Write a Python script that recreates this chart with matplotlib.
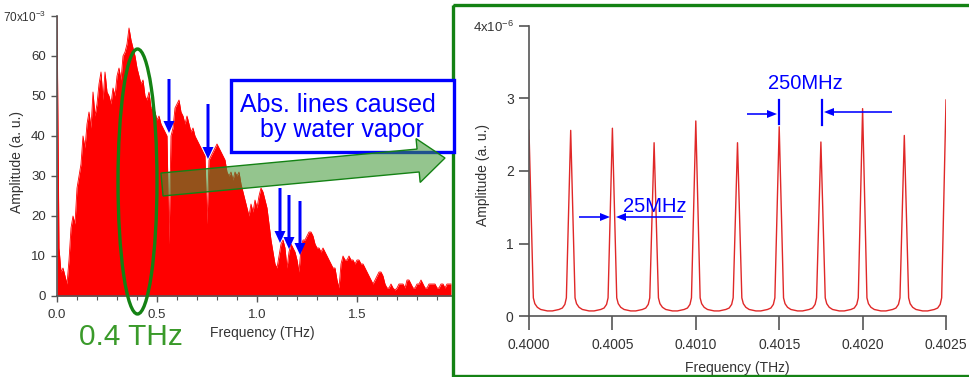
import numpy as np
import matplotlib
matplotlib.use('Agg')
import matplotlib.pyplot as plt
from matplotlib.patches import Ellipse, Rectangle, Polygon, FancyArrow

# ---------------- data ----------------
# Left: broadband THz spectrum, amplitude (x1e-3), sampled every 0.01 THz from 0 THz
spec_f_start = 0.0
spec_f_step = 0.01
spec_amp = [
    72, 12, 6, 7, 5, 3, 9, 17, 20, 18,
    27, 30, 33, 40, 37, 43, 46, 42, 51, 45,
    48, 53, 56, 49, 56, 51, 50, 48, 52, 50,
    55, 57, 54, 60, 61, 63, 67, 64, 62, 60,
    57, 55, 53, 54, 50, 49, 51, 47, 47, 46,
    44, 45, 43, 42, 41, 40, 13, 40, 42, 47,
    48, 49, 46, 45, 43, 45, 43, 41, 42, 40,
    39, 38, 37, 36, 35, 18, 34, 35, 36, 37,
    38, 37, 36, 35, 34, 31, 30, 31, 29, 31,
    30, 31, 28, 26, 24, 22, 20, 23, 21, 24,
    22, 25, 27, 26, 24, 22, 18, 14, 11, 8,
    7, 10, 13, 14, 12, 7, 11, 13, 12, 11,
    9, 6, 12, 14, 14, 15, 16, 16, 15, 13,
    12, 12, 11, 12, 11, 10, 9, 8, 7, 7,
    4, 2, 8, 10, 9, 9, 10, 9, 9, 8,
    9, 9, 8, 8, 7, 6, 5, 4, 3, 4,
    5, 6, 6, 5, 3, 2, 2, 3, 2, 1.5,
    2, 3, 3, 3, 2, 4, 4, 3, 2, 2,
    3, 3, 4, 3, 2, 2, 3, 3, 3, 3,
    2, 2, 3, 3, 2, 3, 3, 3,
]

# Right: frequency comb around 0.4 THz, amplitude (x1e-6)
comb_peak_freq = [0.40000, 0.40025, 0.40050, 0.40075, 0.40100, 0.40125,
                  0.40150, 0.40175, 0.40200, 0.40225, 0.40250]
comb_peak_amp = [2.56, 2.56, 2.59, 2.39, 2.69, 2.39, 2.61, 2.40, 2.86, 2.49, 2.98]
valley_offset = [0.000026, 0.000035, 0.00005, 0.00007, 0.00009, 0.00011, 0.000125,
                 0.00014, 0.00016, 0.00018, 0.0002, 0.000215, 0.000224]
valley_amp = [0.25, 0.17, 0.12, 0.09, 0.08, 0.07, 0.07, 0.07, 0.08, 0.09, 0.11, 0.16, 0.25]

left_xticks = [0.0, 0.5, 1.0, 1.5]
left_xticklabels = ['0.0', '0.5', '1.0', '1.5']
left_yticks = [0, 10, 20, 30, 40, 50, 60, 70]
left_yticklabels = ['0', '10', '20', '30', '40', '50', '60', '70x10$^{-3}$']
right_xticks = [0.4000, 0.4005, 0.4010, 0.4015, 0.4020, 0.4025]
right_xticklabels = ['0.4000', '0.4005', '0.4010', '0.4015', '0.4020', '0.4025']
right_yticks = [0, 1, 2, 3, 4]
right_yticklabels = ['0', '1', '2', '3', '4x10$^{-6}$']

# ---------------- style ----------------
SANS = ['Liberation Sans', 'DejaVu Sans']
plt.rcParams['font.family'] = SANS
plt.rcParams['mathtext.fontset'] = 'custom'
plt.rcParams['mathtext.rm'] = 'Liberation Sans'
plt.rcParams['mathtext.it'] = 'Liberation Sans'
plt.rcParams['mathtext.bf'] = 'Liberation Sans'

W, H = 969, 377
fig = plt.figure(figsize=(W / 100, H / 100), dpi=100)
fig.patch.set_facecolor('white')

def frac(x0, y0, x1, y1):
    return [x0 / W, 1 - y1 / H, (x1 - x0) / W, (y1 - y0) / H]

txtc = '#333333'
spc = '#555555'

# ---------------- left panel ----------------
axL = fig.add_axes(frac(57, 16, 452, 296))
freq = np.round(spec_f_start + spec_f_step * np.arange(len(spec_amp)), 3)
amp = np.array(spec_amp, dtype=float)
axL.fill_between(freq, 0, amp, color='#ff0000', lw=0)
axL.plot(freq, amp, color='#ff0000', lw=0.6)
axL.set_xlim(0, 1.975)
axL.set_ylim(0, 70)
axL.set_xticks(left_xticks)
axL.set_xticklabels(left_xticklabels)
axL.set_xticks(np.round(np.arange(0.1, 1.95, 0.1), 2), minor=True)
axL.set_yticks(left_yticks)
axL.set_yticklabels(left_yticklabels)
for s in ['top', 'right']:
    axL.spines[s].set_visible(False)
for s in ['left', 'bottom']:
    axL.spines[s].set_color(spc)
    axL.spines[s].set_linewidth(1.2)
axL.tick_params(axis='both', which='major', direction='out', length=4, width=1,
                colors=spc, labelcolor=txtc, labelsize=9.5)
axL.tick_params(axis='x', which='major', pad=5)
axL.tick_params(axis='y', which='major', pad=4)
axL.tick_params(axis='x', which='minor', direction='out', length=3, width=0.8, colors=spc)
for lab in axL.get_yticklabels()[-1:]:
    lab.set_fontsize(8.5)
axL.set_xlabel('Frequency (THz)', fontsize=10, color=txtc)
axL.set_ylabel('Amplitude (a. u.)', fontsize=10, color=txtc)
axL.xaxis.set_label_coords((262 - 57) / 395, (296 - 326) / 280)
axL.yaxis.set_label_coords((24 - 57) / 395, (296 - 162) / 280)
axL.patch.set_alpha(0)

# ---------------- right panel ----------------
axR = fig.add_axes(frac(529, 26, 946, 316))
cf, ca = [], []
for i in range(len(comb_peak_freq)):
    cf.append(comb_peak_freq[i])
    ca.append(comb_peak_amp[i])
    if i < len(comb_peak_freq) - 1:
        for o, v in zip(valley_offset, valley_amp):
            cf.append(comb_peak_freq[i] + o)
            ca.append(v)
axR.plot(cf, ca, color='#e02828', lw=1.0)
axR.set_xlim(0.4000, 0.4025)
axR.set_ylim(0, 4)
axR.set_xticks(right_xticks)
axR.set_xticklabels(right_xticklabels)
axR.set_yticks(right_yticks)
axR.set_yticklabels(right_yticklabels)
for s in ['top', 'right']:
    axR.spines[s].set_visible(False)
for s in ['left', 'bottom']:
    axR.spines[s].set_color(spc)
    axR.spines[s].set_linewidth(1.2)
axR.tick_params(axis='both', direction='out', width=1.2,
                colors=spc, labelcolor=txtc, labelsize=10)
axR.tick_params(axis='x', length=10, pad=6)
axR.tick_params(axis='y', length=7, pad=4)
axR.get_yticklabels()[-1].set_fontsize(9.5)
axR.set_xlabel('Frequency (THz)', fontsize=10, color=txtc)
axR.set_ylabel('Amplitude (a. u.)', fontsize=10, color=txtc)
axR.xaxis.set_label_coords(0.5, (316 - 361) / 290)
axR.yaxis.set_label_coords((490 - 529) / 417, (316 - 175) / 290)
axR.patch.set_alpha(0)

# ---------------- overlay annotations (pixel coordinates) ----------------
ov = fig.add_axes([0, 0, 1, 1])
ov.set_xlim(0, W)
ov.set_ylim(H, 0)
ov.axis('off')
ov.patch.set_alpha(0)

green = '#148214'
blue = '#0000ff'

# green frame around right panel
ov.add_patch(Rectangle((453, 5), 520, 371, fill=False, edgecolor=green, lw=2.4))

# green ellipse at 0.4 THz
ov.add_patch(Ellipse((137.5, 181.5), 39, 265, fill=False, edgecolor=green, lw=2.4))
ov.text(130.5, 345, '0.4 THz', color='#3a9a2a', fontsize=21.5,
        ha='center', va='baseline')

# blue absorption arrows
for x, y0, y1 in [(169, 79, 133), (208, 104, 159), (280, 188, 243),
                  (289, 195, 249), (300, 201, 255)]:
    ov.add_patch(FancyArrow(x, y0, 0, y1 - y0, width=3, head_width=11, head_length=12,
                            length_includes_head=True, color=blue, lw=0))

# blue text box
ov.add_patch(Rectangle((231, 80), 223, 72, facecolor='white', edgecolor=blue, lw=2.4))
ov.text(338, 112, 'Abs. lines caused', color=blue, fontsize=18,
        ha='center', va='baseline')
ov.text(342, 137, 'by water vapor', color=blue, fontsize=18,
        ha='center', va='baseline')

# big green translucent arrow
T = np.array([162.0, 184.5])
P = np.array([445.0, 158.0])
u = (P - T) / np.linalg.norm(P - T)
n = np.array([-u[1], u[0]])
B = P - 27 * u
pts = [T - 11.5 * n, B - 11.5 * n, B - 22 * n, P, B + 22 * n, B + 11.5 * n, T + 11.5 * n]
ov.add_patch(Polygon(pts, closed=True, facecolor=(60 / 255, 150 / 255, 50 / 255, 0.55),
                     edgecolor=green, lw=1))

# right panel annotations
ov.text(805, 89, '250MHz', color=blue, fontsize=14.5, ha='center', va='baseline')
ov.plot([779, 779], [100, 124], color=blue, lw=1.6)
ov.plot([822, 822], [100, 125], color=blue, lw=1.6)
ov.add_patch(FancyArrow(747, 114, 30, 0, width=1.6, head_width=8, head_length=10,
                        length_includes_head=True, color=blue, lw=0))
ov.add_patch(FancyArrow(892, 112, -68, 0, width=1.6, head_width=8, head_length=10,
                        length_includes_head=True, color=blue, lw=0))

ov.text(655, 212, '25MHz', color=blue, fontsize=14.5, ha='center', va='baseline')
ov.add_patch(FancyArrow(579, 217, 31, 0, width=1.6, head_width=8, head_length=10,
                        length_includes_head=True, color=blue, lw=0))
ov.add_patch(FancyArrow(683, 217, -67, 0, width=1.6, head_width=8, head_length=10,
                        length_includes_head=True, color=blue, lw=0))

fig.savefig('out.png', dpi=100)
